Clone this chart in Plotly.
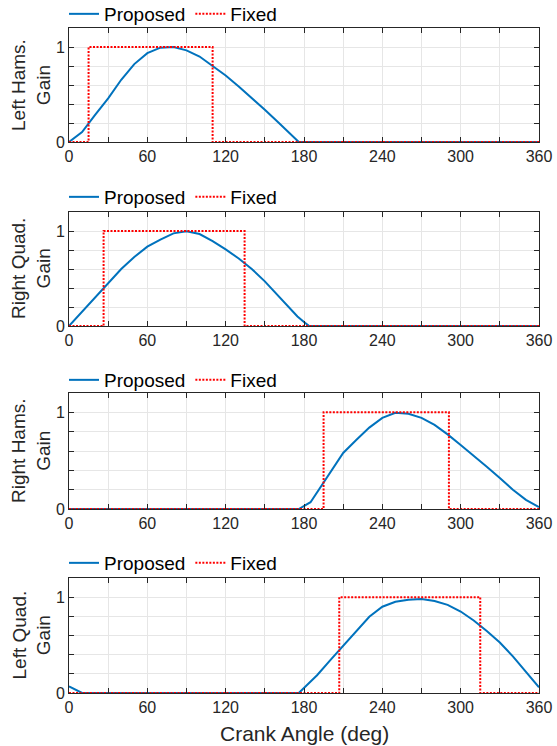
import plotly.graph_objects as go

# Gain profiles versus crank angle for the four muscle groups
panel_titles = ["Left Hams.<br>Gain", "Right Quad.<br>Gain", "Right Hams.<br>Gain", "Left Quad.<br>Gain"]

left_hams_deg = [0, 10, 20, 30, 40, 50, 60, 70, 80, 90, 100, 110, 120, 130, 140, 150, 160, 170, 176, 360]
left_hams_gain = [0, 0.105, 0.285, 0.46, 0.655, 0.82, 0.935, 0.993, 1.0, 0.965, 0.9, 0.80, 0.70, 0.585,
                  0.465, 0.34, 0.21, 0.08, 0, 0]

right_quad_deg = [0, 10, 20, 30, 40, 50, 60, 70, 80, 90, 100, 110, 120, 130, 140, 150, 160, 170, 175,
                  180, 184, 360]
right_quad_gain = [0, 0.152, 0.304, 0.454, 0.60, 0.726, 0.835, 0.91, 0.975, 0.996, 0.968, 0.893, 0.807,
                   0.71, 0.60, 0.47, 0.325, 0.17, 0.10, 0.042, 0, 0]

right_hams_deg = [0, 176, 185, 190, 200, 210, 220, 230, 240, 250, 260, 270, 280, 290, 300, 310, 320,
                  330, 340, 350, 360]
right_hams_gain = [0, 0, 0.07, 0.17, 0.38, 0.58, 0.714, 0.842, 0.943, 0.995, 0.986, 0.943, 0.87, 0.772,
                   0.663, 0.553, 0.437, 0.32, 0.20, 0.094, 0.02]

left_quad_deg = [0, 10, 176, 180, 190, 200, 210, 220, 230, 240, 250, 260, 270, 280, 290, 300, 310, 320,
                 330, 340, 350, 360]
left_quad_gain = [0.07, 0, 0, 0.05, 0.185, 0.34, 0.495, 0.645, 0.795, 0.90, 0.952, 0.972, 0.98, 0.96,
                  0.92, 0.85, 0.756, 0.647, 0.527, 0.382, 0.227, 0.06]

# Fixed on/off activation windows (deg)
fixed_on = [15, 26.5, 195, 207]
fixed_off = [110, 134.5, 291, 315]

x_tick_vals = [0, 30, 60, 90, 120, 150, 180, 210, 240, 270, 300, 330, 360]
x_tick_text = ["0", "", "60", "", "120", "", "180", "", "240", "", "300", "", "360"]
y_tick_vals = [0, 0.2, 0.4, 0.6, 0.8, 1.0, 1.2]
y_tick_text = ["0", "", "", "", "", "1", ""]

proposed = [(left_hams_deg, left_hams_gain), (right_quad_deg, right_quad_gain),
            (right_hams_deg, right_hams_gain), (left_quad_deg, left_quad_gain)]

W, H = 557, 746
# plot-area pixel boxes (top, bottom) for each row
rows_px = [(28, 142), (212, 326), (393, 509), (578, 693)]
x_px = (69, 539)
legend_mid_px = [14, 197, 380, 563]

BLUE = "#0072BD"
RED = "#FF0000"
INK = "#262626"
FONT = "Liberation Sans, Arial, sans-serif"

fig = go.Figure()
layout = dict(
    width=W, height=H, autosize=False,
    margin=dict(l=0, r=0, t=0, b=0, pad=0, autoexpand=False),
    paper_bgcolor="white", plot_bgcolor="white",
    font=dict(family=FONT, color=INK, size=16),
    annotations=[],
)

for i in range(4):
    k = "" if i == 0 else str(i + 1)
    leg = "legend" + k
    xs, ys = proposed[i]
    fig.add_trace(go.Scatter(
        x=xs, y=ys, mode="lines", name="Proposed",
        line=dict(color=BLUE, width=2),
        xaxis="x" + k, yaxis="y" + k, legend=leg,
    ))
    on, off = fixed_on[i], fixed_off[i]
    fig.add_trace(go.Scatter(
        x=[0, on, on, off, off, 360], y=[0, 0, 1, 1, 0, 0], mode="lines", name="Fixed",
        line=dict(color=RED, width=2, dash="2px,1.5px"),
        xaxis="x" + k, yaxis="y" + k, legend=leg,
    ))

    top, bot = rows_px[i]
    axis_common = dict(
        showline=True, linecolor=INK, linewidth=1, mirror="ticks",
        ticks="inside", ticklen=5, tickcolor=INK, tickwidth=1,
        showgrid=True, gridcolor="#e6e6e6", gridwidth=1, zeroline=False,
        tickfont=dict(family=FONT, size=16, color=INK),
    )
    layout["xaxis" + k] = dict(
        axis_common, domain=[x_px[0] / W, x_px[1] / W], range=[0, 360],
        tickmode="array", tickvals=x_tick_vals, ticktext=x_tick_text,
        anchor="y" + k,
    )
    layout["yaxis" + k] = dict(
        axis_common, domain=[1 - bot / H, 1 - top / H], range=[0, 1.2],
        tickmode="array", tickvals=y_tick_vals, ticktext=y_tick_text,
        anchor="x" + k,
    )
    layout[leg] = dict(
        orientation="h", x=64 / W, xanchor="left", y=1 - legend_mid_px[i] / H, yanchor="middle",
        bgcolor="rgba(0,0,0,0)", borderwidth=0,
        font=dict(family=FONT, size=19, color="#000000"),
    )
    layout["annotations"].append(dict(
        text=panel_titles[i], textangle=-90, showarrow=False,
        xref="paper", yref="paper", x=31 / W, y=1 - (top + bot) / 2 / H,
        xanchor="center", yanchor="middle",
        font=dict(family=FONT, size=19, color=INK),
    ))

layout["annotations"].append(dict(
    text="Crank Angle (deg)", showarrow=False, xref="paper", yref="paper",
    x=(x_px[0] + x_px[1]) / 2 / W, y=1 - 733 / H, xanchor="center", yanchor="middle",
    font=dict(family=FONT, size=21, color=INK),
))

fig.update_layout(**layout)
fig.write_html("out.html")
